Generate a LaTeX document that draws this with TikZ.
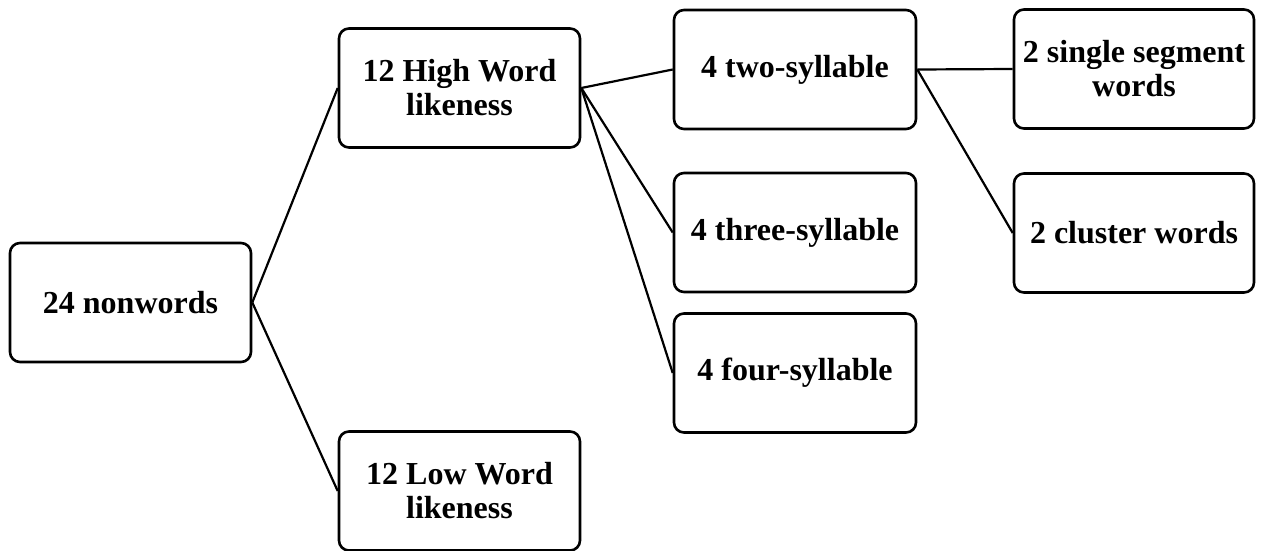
\documentclass[tikz,border=0pt]{standalone}
\usepackage{fontspec}
\setmainfont{Liberation Serif}
\begin{document}
\begin{tikzpicture}[x=1pt,y=-1pt,
  box/.style={draw, line width=2.6pt, rounded corners=10pt, align=center,
    minimum width=#1, minimum height=119pt, inner sep=2pt,
    font=\fontsize{32}{34}\selectfont\bfseries},
  box/.default=241pt,
  link/.style={line width=2.2pt}]
\useasboundingbox (0,0) rectangle (1261,551);
\node[box] (nw) at (130.5,302.5) {24 nonwords};
\node[box] (hi) at (459.5,88) {12 High Word\\likeness};
\node[box] (lo) at (459.5,491) {12 Low Word\\likeness};
\node[box=242pt] (two) at (795,69.5) {4 two-syllable};
\node[box=242pt] (three) at (795,232.5) {4 three-syllable};
\node[box=242pt] (four) at (795,373) {4 four-syllable};
\node[box=240pt] (single) at (1134,69) {2 single segment\\words};
\node[box=240pt] (cluster) at (1134,233) {2 cluster words};
\draw[link] (nw.east) -- (hi.west);
\draw[link] (nw.east) -- (lo.west);
\draw[link] (hi.east) -- (two.west);
\draw[link] (hi.east) -- (three.west);
\draw[link] (hi.east) -- (four.west);
\draw[link] (two.east) -- (single.west);
\draw[link] (two.east) -- (cluster.west);
\end{tikzpicture}
\end{document}
